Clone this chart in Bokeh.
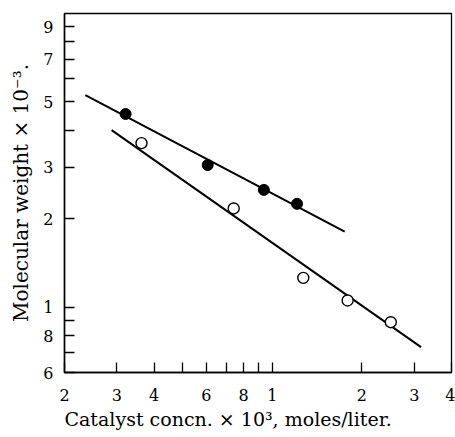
from bokeh.plotting import figure
from bokeh.models import FixedTicker, Range1d, Title
from bokeh.embed import file_html
from bokeh.resources import INLINE

# Catalyst concentration (x 10^3 moles/liter) and molecular weight (x 10^-3)
filled_conc = [0.321, 0.606, 0.936, 1.21]
filled_mw = [4.55, 3.05, 2.51, 2.25]
open_conc = [0.363, 0.741, 1.27, 1.79, 2.50]
open_mw = [3.62, 2.17, 1.26, 1.055, 0.89]

# Straight fitted lines on the log-log scale (two end points each)
upper_fit_conc = [0.235, 1.75]
upper_fit_mw = [5.27, 1.81]
lower_fit_conc = [0.288, 3.16]
lower_fit_mw = [4.01, 0.732]

# Axis ticks and their printed labels
x_ticks = [0.2, 0.3, 0.4, 0.5, 0.6, 0.7, 0.8, 0.9, 1, 2, 3, 4]
x_tick_labels = ["2", "3", "4", "", "6", "", "8", "", "1", "2", "3", "4"]
y_ticks = [0.6, 0.7, 0.8, 0.9, 1, 2, 3, 4, 5, 6, 7, 8, 9]
y_tick_labels = ["6", "", "8", "", "1", "2", "3", "", "5", "", "7", "", "9"]

FONT = "DejaVu Serif"

p = figure(
    width=455, height=437,
    x_axis_type="log", y_axis_type="log",
    x_range=Range1d(0.2, 4), y_range=Range1d(0.6, 10),
    output_backend="svg", toolbar_location=None,
    min_border_left=64, min_border_right=4,
    min_border_top=13, min_border_bottom=65,
    background_fill_color="white", border_fill_color="white",
)
p.grid.visible = False
p.outline_line_color = "black"
p.outline_line_width = 1.3

p.xaxis.ticker = FixedTicker(ticks=x_ticks, minor_ticks=[])
p.yaxis.ticker = FixedTicker(ticks=y_ticks, minor_ticks=[])
p.xaxis.major_label_overrides = dict(zip(x_ticks, x_tick_labels))
p.yaxis.major_label_overrides = dict(zip(y_ticks, y_tick_labels))

p.yaxis.axis_label = "Molecular weight × 10⁻³."

for ax in (p.xaxis, p.yaxis):
    ax.axis_line_color = "black"
    ax.axis_line_width = 1.5
    ax.major_tick_in = 10
    ax.major_tick_out = 0
    ax.major_tick_line_color = "black"
    ax.major_tick_line_width = 1.3
    ax.minor_tick_line_color = None
    ax.major_label_text_font = FONT
    ax.major_label_text_font_size = "16px"
    ax.major_label_text_color = "black"
    ax.axis_label_text_font = FONT
    ax.axis_label_text_font_style = "normal"
    ax.axis_label_text_color = "black"

p.yaxis.axis_label_text_font_size = "20px"
p.xaxis.major_label_standoff = 16
p.yaxis.major_label_standoff = 11
p.yaxis.axis_label_standoff = 7

# x-axis caption, set flush with the left edge of the frame
x_caption = Title(
    text="Catalyst concn. × 10³, moles/liter.",
    align="left", text_font=FONT, text_font_size="19px",
    text_font_style="normal", text_color="black", standoff=4,
)
p.add_layout(x_caption, "below")

p.line(upper_fit_conc, upper_fit_mw, line_color="black", line_width=2)
p.line(lower_fit_conc, lower_fit_mw, line_color="black", line_width=2)

p.scatter(filled_conc, filled_mw, marker="circle", size=11,
          fill_color="black", line_color="black")
p.scatter(open_conc, open_mw, marker="circle", size=11,
          fill_color="white", line_color="black", line_width=1.4)

open("out.html", "w").write(file_html(p, INLINE))
